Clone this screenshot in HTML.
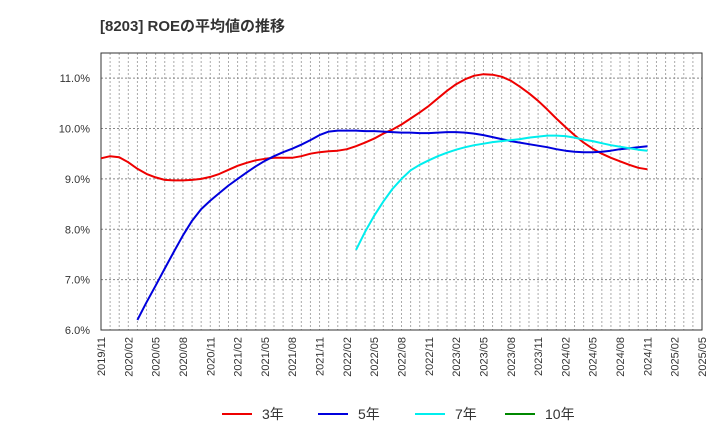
<!DOCTYPE html>
<html><head><meta charset="utf-8"><style>
body{margin:0;background:#fff;font-family:"Liberation Sans","Noto Sans CJK JP",sans-serif}
</style></head><body>
<svg id="c" width="720" height="440" xmlns="http://www.w3.org/2000/svg" style="font-family:'Liberation Sans','Noto Sans CJK JP',sans-serif">
<text x="100" y="31" font-size="15" font-weight="bold" fill="#333">[8203]  ROEの平均値の推移</text>
</svg>
<script>
const xLabels=["2019/11","2020/02","2020/05","2020/08","2020/11","2021/02","2021/05","2021/08","2021/11","2022/02","2022/05","2022/08","2022/11","2023/02","2023/05","2023/08","2023/11","2024/02","2024/05","2024/08","2024/11","2025/02","2025/05"];
const yTicks=[6,7,8,9,10,11];
const s3=[9.41,9.45,9.43,9.33,9.2,9.1,9.03,8.98,8.97,8.97,8.98,9.0,9.04,9.1,9.18,9.26,9.32,9.37,9.4,9.42,9.42,9.42,9.45,9.5,9.53,9.55,9.56,9.59,9.65,9.72,9.8,9.9,9.98,10.08,10.2,10.32,10.45,10.6,10.75,10.88,10.98,11.05,11.08,11.07,11.03,10.95,10.83,10.7,10.55,10.38,10.2,10.03,9.87,9.72,9.6,9.5,9.42,9.35,9.28,9.22,9.19];
const s5Start=4;
const s5=[6.2,6.55,6.88,7.22,7.55,7.88,8.17,8.4,8.57,8.72,8.87,9.0,9.13,9.25,9.36,9.45,9.53,9.6,9.68,9.77,9.87,9.94,9.96,9.96,9.96,9.95,9.95,9.94,9.93,9.92,9.92,9.91,9.91,9.92,9.93,9.93,9.92,9.9,9.87,9.83,9.79,9.75,9.72,9.69,9.66,9.63,9.59,9.56,9.54,9.53,9.53,9.54,9.56,9.59,9.61,9.63,9.65];
const s7Start=28;
const s7=[7.59,7.95,8.27,8.55,8.8,9.0,9.17,9.28,9.37,9.45,9.52,9.58,9.63,9.67,9.7,9.73,9.75,9.77,9.79,9.82,9.84,9.86,9.86,9.85,9.82,9.78,9.75,9.71,9.67,9.64,9.61,9.58,9.56];
const legendNames=["3年","5年","7年","10年"];
const legendColors=["#ee0000","#0000dd","#00eeee","#008800"];
const NS="http://www.w3.org/2000/svg",svg=document.getElementById('c');
const L=101,R=702,T=53,B=330,ymin=6,ymax=11.5,nMonths=66;
const X=i=>L+i*(R-L)/nMonths, Y=v=>B-(v-ymin)/(ymax-ymin)*(B-T);
function mk(t,a){const e=document.createElementNS(NS,t);for(const k in a)e.setAttribute(k,a[k]);svg.appendChild(e);return e;}
for(let i=1;i<nMonths;i++){const g=mk('line',{x1:X(i),x2:X(i),y1:T,y2:B,stroke:'#aaa','stroke-dasharray':'2,2','stroke-width':1});

}
yTicks.forEach(v=>{if(v>ymin){const g=mk('line',{x1:L,x2:R,y1:Y(v),y2:Y(v),stroke:'#888','stroke-dasharray':'2,2'});

}
const t=mk('text',{x:90,y:Y(v)+4,'font-size':11,'text-anchor':'end',fill:'#333'});t.textContent=v.toFixed(1)+'%';

});
const fr=mk('rect',{x:L,y:T,width:R-L,height:B-T,fill:'none',stroke:'#333'});


xLabels.forEach((lb,i)=>{const x=X(i*3)+4;const t=mk('text',{x:x,y:337,'font-size':11,'text-anchor':'end',fill:'#333',transform:`rotate(-90 ${x} 337)`});t.textContent=lb;

});
function series(d,start,col,name){const p=d.map((v,i)=>X(start+i).toFixed(1)+','+Y(v).toFixed(1)).join(' ');
const e=mk('polyline',{points:p,fill:'none',stroke:col,'stroke-width':2,'stroke-linejoin':'round'});

}
series(s3,0,legendColors[0],'series-3y');
series(s5,s5Start,legendColors[1],'series-5y');
series(s7,s7Start,legendColors[2],'series-7y');
const lx=[222,318,415,505];
legendNames.forEach((n,i)=>{const l=mk('line',{x1:lx[i],x2:lx[i]+30,y1:414,y2:414,stroke:legendColors[i],'stroke-width':2});


const t=mk('text',{x:lx[i]+40,y:419,'font-size':14,fill:'#333'});t.textContent=n;

});
</script>
</body></html>
